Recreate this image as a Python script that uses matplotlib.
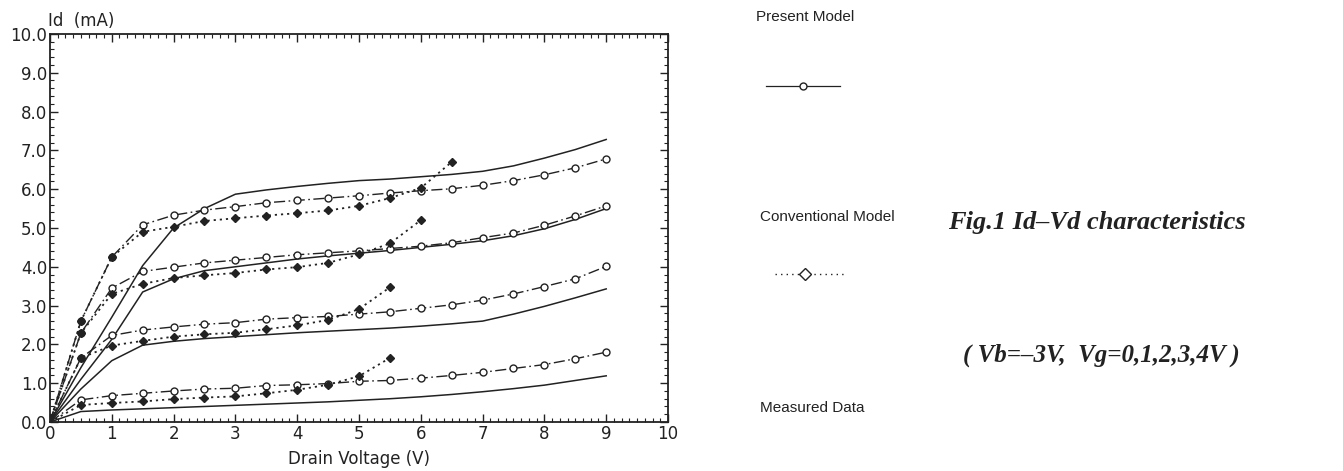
import numpy as np
import matplotlib.pyplot as plt
from matplotlib.lines import Line2D

# drain voltage grid (V)
vd = [0, 0.5, 1, 1.5, 2, 2.5, 3, 3.5, 4, 4.5, 5, 5.5, 6, 6.5, 7, 7.5, 8, 8.5, 9]

# Present model (circles), one list per gate voltage, top curve first
present_a = [0, 2.6, 4.25, 5.08, 5.33, 5.46, 5.55, 5.65, 5.71, 5.77, 5.83, 5.9, 5.96, 6.01, 6.1, 6.22, 6.37, 6.55, 6.78]
present_b = [0, 2.29, 3.45, 3.88, 3.99, 4.1, 4.17, 4.24, 4.31, 4.36, 4.41, 4.47, 4.53, 4.62, 4.75, 4.87, 5.07, 5.31, 5.57]
present_c = [0, 1.65, 2.23, 2.37, 2.45, 2.52, 2.56, 2.65, 2.69, 2.72, 2.78, 2.84, 2.93, 3.02, 3.14, 3.3, 3.49, 3.69, 4.01]
present_d = [0, 0.57, 0.68, 0.74, 0.8, 0.85, 0.87, 0.94, 0.96, 0.99, 1.05, 1.07, 1.13, 1.2, 1.28, 1.38, 1.48, 1.63, 1.8]

# Conventional model (diamonds), stops where it blows up
conv_a = [0, 2.6, 4.25, 4.9, 5.03, 5.18, 5.25, 5.32, 5.38, 5.45, 5.57, 5.77, 6.03, 6.7]
conv_b = [0, 2.29, 3.3, 3.56, 3.71, 3.78, 3.84, 3.93, 3.99, 4.1, 4.32, 4.6, 5.2]
conv_c = [0, 1.65, 1.97, 2.09, 2.2, 2.26, 2.3, 2.39, 2.49, 2.63, 2.91, 3.47]
conv_d = [0, 0.44, 0.49, 0.53, 0.59, 0.63, 0.66, 0.74, 0.83, 0.96, 1.18, 1.65]

# Measured data (plain solid)
meas_a = [0, 1.4, 2.7, 4.03, 5.0, 5.5, 5.87, 5.98, 6.07, 6.15, 6.22, 6.26, 6.32, 6.38, 6.46, 6.6, 6.8, 7.02, 7.28]
meas_b = [0, 1.1, 2.13, 3.35, 3.69, 3.9, 4.0, 4.1, 4.2, 4.28, 4.35, 4.42, 4.5, 4.58, 4.67, 4.8, 4.98, 5.22, 5.5]
meas_c = [0, 0.85, 1.58, 1.98, 2.08, 2.15, 2.2, 2.25, 2.3, 2.34, 2.38, 2.42, 2.47, 2.53, 2.6, 2.78, 2.98, 3.2, 3.43]
meas_d = [0, 0.27, 0.31, 0.34, 0.37, 0.4, 0.43, 0.46, 0.49, 0.52, 0.56, 0.6, 0.65, 0.71, 0.78, 0.86, 0.95, 1.07, 1.19]

presents = [present_a, present_b, present_c, present_d]
convs = [conv_a, conv_b, conv_c, conv_d]
meass = [meas_a, meas_b, meas_c, meas_d]

ink = '#222222'
dashdot = (0, (8, 2.5, 1.2, 2.5))

fig = plt.figure(figsize=(13.43, 4.71), dpi=100)
ax = fig.add_axes([0.0372, 0.104, 0.4602, 0.824])

for i in range(4):
  ax.plot(vd, meass[i], '-', color=ink, lw=1.1)
  ax.plot(vd, presents[i], linestyle=dashdot, color=ink, lw=1.0,
          marker='o', ms=5, mfc='white', mec=ink, mew=1.0, markevery=slice(1, None))
  ax.plot(vd[:len(convs[i])], convs[i], linestyle=(0, (1.2, 2.2)), color=ink, lw=1.3,
          marker='D', ms=3.8, mfc=ink, mec=ink, markevery=slice(1, None))

ax.set_xlim(0, 10)
ax.set_ylim(0, 10)
ax.set_xticks(range(0, 11))
ax.set_xticks(np.arange(0, 10.01, 0.125), minor=True)
ax.set_yticks(np.arange(0, 10.01, 1.0))
ax.set_yticks(np.arange(0, 10.01, 0.2), minor=True)
ax.set_yticklabels(['%.1f' % v for v in np.arange(0, 10.01, 1.0)])
ax.tick_params(which='both', direction='in', top=True, right=True, colors=ink, labelsize=12, pad=2)
ax.tick_params(which='major', length=6, width=1.0)
ax.tick_params(which='minor', length=3, width=0.8)
for s in ax.spines.values():
  s.set_linewidth(1.3)
  s.set_color(ink)
ax.set_xlabel('Drain Voltage (V)', fontsize=12, color=ink, labelpad=5)
ax.text(-0.003, 1.01, 'Id  (mA)', transform=ax.transAxes, fontsize=12, color=ink, va='bottom', ha='left')

# legend area on the right
narrow = ['Liberation Sans Narrow', 'Liberation Sans', 'DejaVu Sans']
fig.text(756/1343, 1-17/471, 'Present Model', fontsize=11, family=narrow, va='center', ha='left', color=ink)
fig.text(760/1343, 1-217/471, 'Conventional Model', fontsize=11, family=narrow, va='center', ha='left', color=ink)
fig.text(760/1343, 1-408/471, 'Measured Data', fontsize=11, family=narrow, va='center', ha='left', color=ink)

fig.add_artist(Line2D([766/1343, 840/1343], [1-86/471, 1-86/471], transform=fig.transFigure,
                      color=ink, lw=0.9))
fig.add_artist(Line2D([803/1343], [1-86/471], transform=fig.transFigure, marker='o', ms=5,
                      mfc='white', mec=ink, lw=0))
fig.add_artist(Line2D([775/1343, 845/1343], [1-274/471, 1-274/471], transform=fig.transFigure,
                      color=ink, lw=1.0, linestyle=(0, (1, 3))))
fig.add_artist(Line2D([805/1343], [1-274/471], transform=fig.transFigure, marker='D', ms=6,
                      mfc='white', mec=ink, lw=0))

serif = ['Liberation Serif', 'DejaVu Serif']
fig.text(948/1343, 1-223/471, 'Fig.1 Id\u2013Vd characteristics', fontsize=19, family=serif,
         weight='bold', style='italic', va='center', ha='left', color=ink)
fig.text(963/1343, 1-355/471, '( Vb=\u20133V,  Vg=0,1,2,3,4V )', fontsize=18, family=serif,
         weight='bold', style='italic', va='center', ha='left', color=ink)

plt.savefig('out.png', dpi=100)
